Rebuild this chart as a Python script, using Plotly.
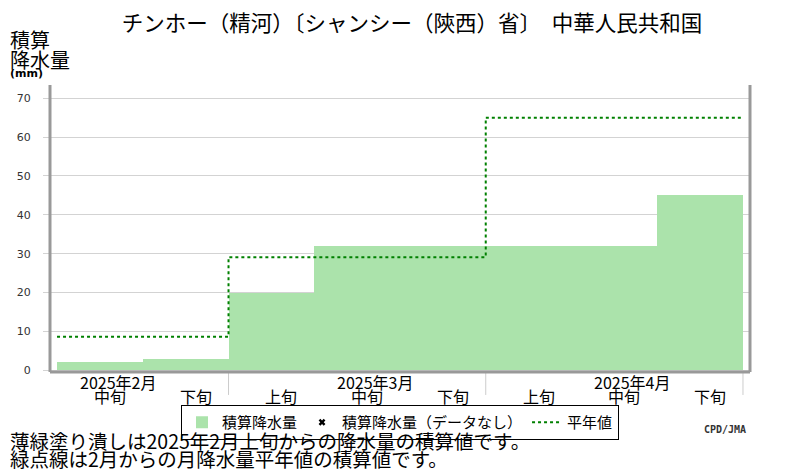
import plotly.graph_objects as go

# data
months = ["2025年2月", "2025年3月", "2025年4月"]
month_start = [0, 2, 5]          # slot where each month begins
decades = ["中旬", "下旬", "上旬", "中旬", "下旬", "上旬", "中旬", "下旬"]
precip = [2.2, 2.9, 20.0, 32.1, 32.1, 32.1, 32.1, 45.2]
normal = [8.6, 8.6, 29.1, 29.1, 29.1, 65.0, 65.0, 65.0]
yticks = [0, 10, 20, 30, 40, 50, 60, 70]

font = "Noto Sans CJK JP"
n = len(decades)
centers = [i + 0.5 for i in range(n)]

fig = go.Figure()
fig.add_trace(go.Bar(x=centers, y=precip, width=1, name="積算降水量",
                     marker=dict(color="#abe3ab", line=dict(width=0))))
fig.add_trace(go.Scatter(x=[None], y=[None], mode="markers", name="積算降水量（データなし）",
                         marker=dict(symbol="x", size=6, color="black")))
fig.add_trace(go.Scatter(x=list(range(n + 1)), y=normal + normal[-1:], mode="lines",
                         line_shape="hv", name="平年値",
                         line=dict(color="#008000", width=2, dash="dot")))

# x-axis labels: decades and months
for i, d in enumerate(decades):
    fig.add_annotation(x=centers[i], y=0, xref="x", yref="paper", text=d, showarrow=False,
                       xshift=10, yshift=-24, yanchor="middle",
                       font=dict(family=font, size=16, color="black"))
for m, s in zip(months, month_start):
    fig.add_annotation(x=s + 0.5 if s == 0 else s + 1.5, y=0, xref="x", yref="paper", text=m,
                       showarrow=False, xshift=18, yshift=-10, yanchor="middle",
                       font=dict(family=font, size=16, color="black"))
# month separators
for b in month_start[1:] + [n]:
    fig.add_shape(type="line", x0=b, x1=b, y0=0, y1=-0.08, xref="x", yref="paper",
                  line=dict(color="#cccccc", width=1))

# frame
for x0, y0, x1, y1 in [(0, 0, 0, 1), (0, 0, 1, 0), (1, 0, 1, 1)]:
    fig.add_shape(type="line", x0=x0, x1=x1, y0=y0, y1=y1, xref="paper", yref="paper",
                  line=dict(color="#999999", width=3))

# y-axis title, one line each
for txt, ys in [("積算", 46), ("降水量", 26)]:
    fig.add_annotation(x=0, y=1, xref="paper", yref="paper", xanchor="left", yanchor="middle",
                       text=txt, showarrow=False, xshift=-42, yshift=ys,
                       font=dict(family=font, size=20, color="black"))
fig.add_annotation(x=0, y=1, xref="paper", yref="paper", xanchor="left", yanchor="middle",
                   text="<b>(mm)</b>", showarrow=False, xshift=-42, yshift=12,
                   font=dict(family="DejaVu Sans", size=11, color="black"))
fig.add_annotation(x=1, y=0, xref="paper", yref="paper", xanchor="right", yanchor="middle",
                   text="<b>CPD/JMA</b>", showarrow=False, xshift=-2, yshift=-57,
                   font=dict(family="DejaVu Sans Mono", size=10, color="#333333"))
for txt, ys in [("薄緑塗り潰しは2025年2月上旬からの降水量の積算値です。", -68),
                ("緑点線は2月からの月降水量平年値の積算値です。", -86)]:
    fig.add_annotation(x=0, y=0, xref="paper", yref="paper", xanchor="left", yanchor="middle",
                       text=txt, showarrow=False, xshift=-42, yshift=ys,
                       font=dict(family=font, size=19.5, color="black"))

# page shows the figure 8px in from the top-left, so margins compensate
fig.update_layout(
    width=800, height=470,
    margin=dict(l=42, r=58, t=77, b=106, autoexpand=False),
    paper_bgcolor="white", plot_bgcolor="white",
    title=dict(text="チンホー（精河）〔シャンシー（陝西）省〕　中華人民共和国",
               x=0.505, xanchor="center", y=0.968, yanchor="middle",
               font=dict(family=font, size=21.5, color="black")),
    bargap=0,
    showlegend=True,
    legend=dict(orientation="h", x=0.5, y=-0.115, xanchor="center", yanchor="top",
                bordercolor="black", borderwidth=1, bgcolor="white",
                font=dict(family=font, size=15, color="black"),
                itemwidth=30, tracegroupgap=0),
    xaxis=dict(range=[-0.082, n + 0.082], showticklabels=False, showgrid=False,
               zeroline=False, showline=False),
    yaxis=dict(range=[-0.44, 73.4], tickvals=yticks, showgrid=True, gridcolor="#d3d3d3",
               gridwidth=1, zeroline=False, showline=False, ticks="outside", ticklen=6,
               tickcolor="#d3d3d3", ticklabelstandoff=10,
               tickfont=dict(family="DejaVu Sans", size=11, color="#333333")),
)

fig.write_html("out.html")
